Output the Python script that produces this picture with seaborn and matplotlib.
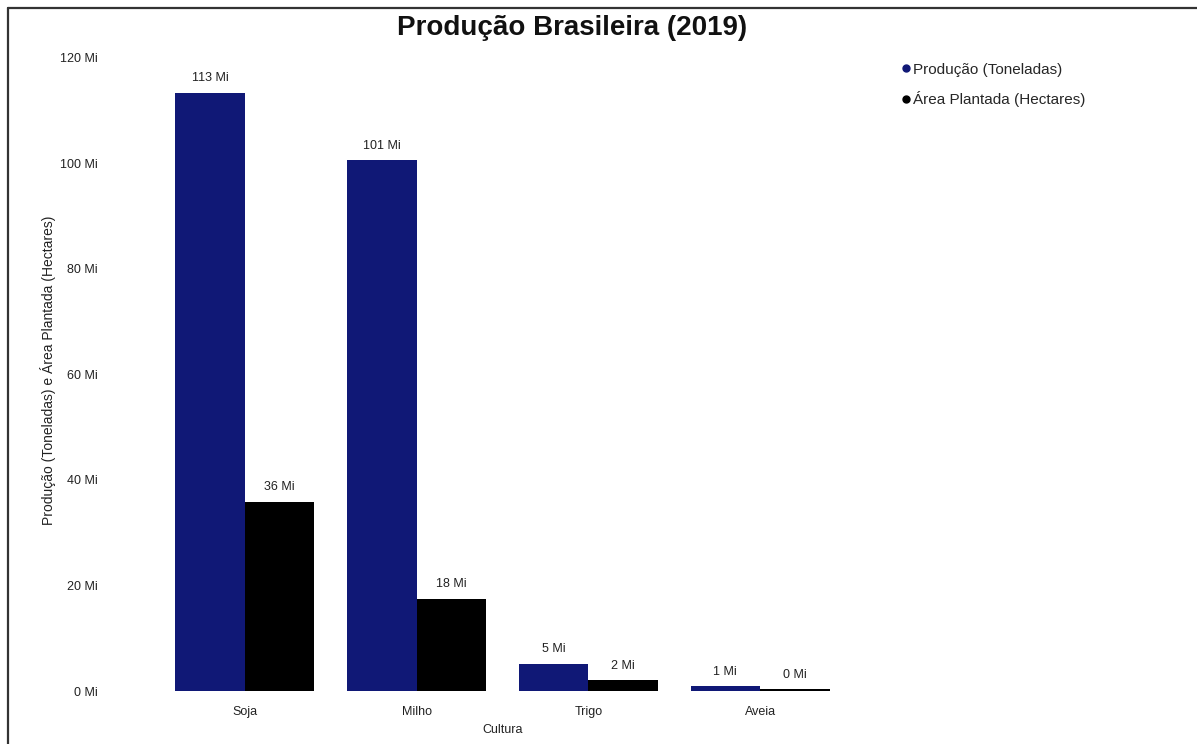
import matplotlib
matplotlib.use("Agg")
import matplotlib.pyplot as plt
from matplotlib.lines import Line2D
import seaborn as sns
import pandas as pd

# Brazilian crop figures for 2019, in millions
culturas = ["Soja", "Milho", "Trigo", "Aveia"]
producao_t = [113.4, 100.6, 5.2, 0.9]      # production (tonnes)
area_ha = [35.9, 17.5, 2.1, 0.4]           # planted area (hectares)
series = ["Produção (Toneladas)", "Área Plantada (Hectares)"]
yticks = [0, 20, 40, 60, 80, 100, 120]

cores = ["#101876", "#000000"]

df = pd.DataFrame({
    "Cultura": culturas * 2,
    "Valor": producao_t + area_ha,
    "Serie": [series[0]] * len(culturas) + [series[1]] * len(culturas),
})

sns.set_theme(style="white")
plt.rcParams["font.family"] = ["Liberation Sans", "DejaVu Sans"]

fig = plt.figure(figsize=(11.97, 7.44), dpi=100)
ax = fig.add_axes([0.0919, 0.0712, 0.6558, 0.8616])

sns.barplot(data=df, x="Cultura", y="Valor", hue="Serie", palette=cores,
            width=0.81, saturation=1, linewidth=0, ax=ax, legend=False)

for cont in ax.containers:
    vals = [b.get_height() for b in cont]
    ax.bar_label(cont, labels=[f"{v:.0f} Mi" for v in vals], padding=6,
                 fontsize=9, color="#222222")

ax.set_xlim(-0.786, 3.786)
ax.set_ylim(0, 121.5)
ax.set_yticks(yticks)
ax.set_yticklabels([f"{t} Mi" for t in yticks], fontsize=9, color="#222222")
ax.tick_params(axis="both", length=0, pad=9)
ax.tick_params(axis="x", labelsize=9, labelcolor="#222222", pad=11)
for s in ax.spines.values():
    s.set_visible(False)

ax.set_xlabel("Cultura", fontsize=9, color="#222222", labelpad=4)
ax.set_ylabel("Produção (Toneladas) e Área Plantada (Hectares)", fontsize=10,
              color="#222222", labelpad=3)

fig.text(0.478, 0.962, "Produção Brasileira (2019)", ha="center", va="center",
         fontsize=20, fontweight="bold", color="#111111")

handles = [Line2D([], [], marker="o", linestyle="", markersize=5, color=c)
           for c in cores]
fig.legend(handles, series, loc="upper left", bbox_to_anchor=(0.7445, 0.924),
           frameon=False, fontsize=11, handletextpad=-0.2, labelspacing=0.95,
           borderaxespad=0, handlelength=1.2)

# outer frame
fig.add_artist(Line2D([8 / 1197, 1.0], [1 - 8 / 744] * 2, transform=fig.transFigure,
                      color="#333333", linewidth=1.6))
fig.add_artist(Line2D([8 / 1197] * 2, [0.0, 1 - 8 / 744], transform=fig.transFigure,
                      color="#333333", linewidth=1.6))

fig.savefig("out.png", dpi=100, facecolor="white")
